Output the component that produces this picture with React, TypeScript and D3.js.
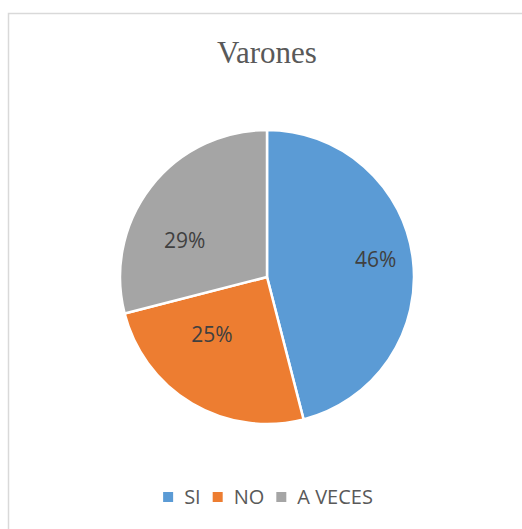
import React, { useEffect, useRef } from 'react';
import * as d3 from 'd3';

const categories = ['SI', 'NO', 'A VECES'];
const values = [46, 25, 29];
const colors = ['#5B9BD5', '#ED7D31', '#A5A5A5'];
const title = 'Varones';

// label placement tweaks (degrees shift from mid-angle, radius in px)
const labelShift = [-2, 13, -14];
const labelRadius = [110, 80, 90];

const W = 522, H = 529;

export default function App() {
  const legendRef = useRef<SVGGElement>(null);

  const cx = 267, cy = 277, R = 147;
  const pie = d3.pie<number>().sort(null).value(d => d);
  const arcs = pie(values);
  const arc = d3.arc<d3.PieArcDatum<number>>().innerRadius(0).outerRadius(R);

  useEffect(() => {
    // lay out legend items one after another, centered
    const g = d3.select(legendRef.current);
    const items = g.selectAll<SVGGElement, unknown>('g.item').nodes();
    let x = 0;
    items.forEach(node => {
      const it = d3.select(node);
      it.attr('transform', `translate(${x},0)`);
      const t = it.select<SVGTextElement>('text').node();
      const w = t ? t.getComputedTextLength() : 0;
      x += 10 + 11 + w + 12;
    });
    const total = x - 12;
    g.attr('transform', `translate(${cx - total / 2 + 1},${497})`);
  }, []);

  return (
    <svg width={W} height={H} style={{ position: 'absolute', left: 0, top: 0 }}>
      <rect x={8.5} y={13.5} width={W} height={H} fill="#fff" stroke="#d9d9d9" strokeWidth={1.5} />
      <text x={cx} y={63} textAnchor="middle" fontFamily="'Liberation Serif', 'Times New Roman', serif"
        fontSize={31} fill="#595959">{title}</text>
      <g transform={`translate(${cx},${cy})`}>
        {arcs.map((a, i) => (
          <path key={categories[i]} d={arc(a) || ''} fill={colors[i]} stroke="#fff" strokeWidth={2.5} strokeLinejoin="round" />
        ))}
        {arcs.map((a, i) => {
          const ang = (a.startAngle + a.endAngle) / 2 + (labelShift[i] * Math.PI) / 180;
          const r = labelRadius[i];
          return (
            <text key={'l' + i} x={r * Math.sin(ang)} y={-r * Math.cos(ang)} dy="0.35em" textAnchor="middle"
              fontFamily="'Open Sans', sans-serif" fontSize={21} fill="#404040">
              {values[i]}%
            </text>
          );
        })}
      </g>
      <g ref={legendRef} transform={`translate(162,497)`}>
        {categories.map((c, i) => (
          <g className="item" key={c}>
            <rect x={0} y={-5} width={10} height={10} fill={colors[i]} />
            <text x={21} y={0} dy="0.36em" fontFamily="'Open Sans', sans-serif" fontSize={20} fill="#595959">{c}</text>
          </g>
        ))}
      </g>
    </svg>
  );
}
